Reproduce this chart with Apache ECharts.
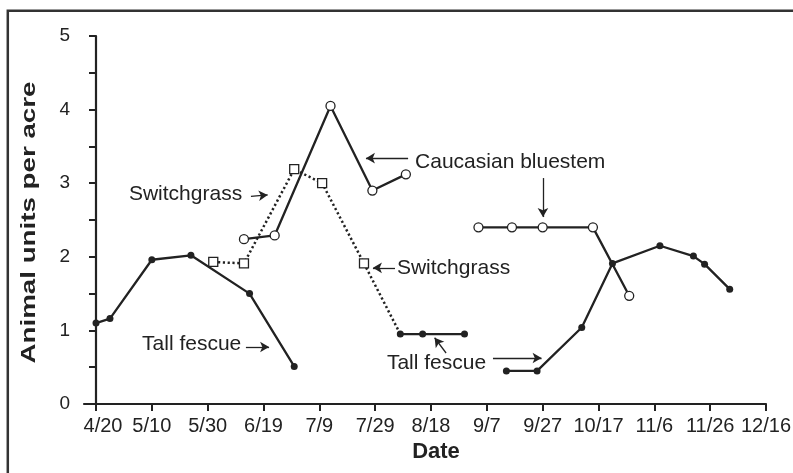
<!DOCTYPE html>
<html>
<head>
<meta charset="utf-8">
<script src="https://cdn.jsdelivr.net/npm/echarts@6/dist/echarts.min.js"></script>
<style>html,body{margin:0;padding:0;background:#fff;}#c{width:793px;height:473px;}</style>
</head>
<body>
<div id="c"></div>
<script>
// x values are days after 4/20
var xTickDays = [0, 20, 40, 60, 80, 100, 120, 140, 160, 180, 200, 220, 240];
var xTickLabels = ['4/20', '5/10', '5/30', '6/19', '7/9', '7/29', '8/18', '9/7', '9/27', '10/17', '11/6', '11/26', '12/16'];
var yTickValues = [0, 0.5, 1, 1.5, 2, 2.5, 3, 3.5, 4, 4.5, 5];
var yLabelValues = [0, 1, 2, 3, 4, 5];

var tallFescueSpring = [[0, 1.10], [5, 1.16], [20, 1.96], [34, 2.02], [55, 1.50], [71, 0.51]];
var tallFescueSummer = [[109, 0.95], [117, 0.95], [132, 0.95]];
var tallFescueFall = [[147, 0.45], [158, 0.45], [174, 1.04], [185, 1.91], [202, 2.15], [214, 2.01], [218, 1.90], [227, 1.56]];
var bluestemSummer = [[53, 2.24], [64, 2.29], [84, 4.05], [99, 2.90], [111, 3.12]];
var bluestemFall = [[137, 2.40], [149, 2.40], [160, 2.40], [178, 2.40], [191, 1.47]];
var switchgrass = [[42, 1.93], [53, 1.91], [71, 3.19], [81, 3.00], [96, 1.91], [109, 0.95]];

var noteLabels = [
  {name: 'Switchgrass', coord: [11.8, 2.85]},
  {name: 'Caucasian bluestem', coord: [114.3, 3.29]},
  {name: 'Switchgrass', coord: [107.8, 1.85]},
  {name: 'Tall fescue', coord: [16.5, 0.815]},
  {name: 'Tall fescue', coord: [104.2, 0.557]}
];
var noteArrows = [
  [[55.5, 2.82], [61.5, 2.84]],
  [[111.8, 3.34], [96.7, 3.34]],
  [[160.1, 3.07], [160.1, 2.54]],
  [[107.1, 1.85], [99.2, 1.85]],
  [[53.7, 0.774], [62.0, 0.774]],
  [[142.2, 0.625], [159.6, 0.625]],
  [[125.4, 0.693], [121.3, 0.90]]
];

var FONT = "'Liberation Sans', Arial, Helvetica, sans-serif";
var INK = '#222';

var chart = echarts.init(document.getElementById('c'), null, {renderer: 'canvas'});

function solidSeries(data, filled, z) {
  return {
    type: 'line', data: data, z: z,
    symbol: 'circle', symbolSize: filled ? 7 : 9,
    itemStyle: {color: filled ? INK : '#fff', borderColor: INK, borderWidth: filled ? 0 : 1.3},
    lineStyle: {color: INK, width: 2.3},
    animation: false, silent: true
  };
}

var swData = switchgrass.map(function (p, i) {
  return i === switchgrass.length - 1 ? {value: p, symbol: 'none'} : p;
});

var option = {
  backgroundColor: '#fff',
  animation: false,
  grid: {left: 84, right: 27, top: 36, bottom: 69, containLabel: false, outerBoundsMode: 'none'},
  xAxis: {
    type: 'value', min: -4.3, max: 240,
    axisLine: {show: true, lineStyle: {color: INK, width: 2.2}},
    axisTick: {show: true, customValues: xTickDays, length: 7, lineStyle: {color: INK, width: 2}},
    axisLabel: {
      customValues: xTickDays, margin: 12, color: INK, fontFamily: FONT, fontSize: 20,
      formatter: function (v) {
        var i = xTickDays.indexOf(v);
        if (i < 0) return '';
        return i === 0 ? '{first|' + xTickLabels[i] + '}' : xTickLabels[i];
      },
      rich: {first: {padding: [0, 0, 0, 14], color: INK, fontFamily: FONT, fontSize: 20}}
    },
    splitLine: {show: false},
    name: 'Date', nameLocation: 'middle', nameGap: 37,
    nameTextStyle: {color: INK, fontFamily: FONT, fontSize: 22, fontWeight: 'bold', padding: [0, 0, 0, 22]}
  },
  yAxis: {
    type: 'value', min: 0, max: 5, interval: 1,
    axisLine: {show: true, lineStyle: {color: INK, width: 2.2}},
    axisTick: {show: true, customValues: yTickValues, length: 7, lineStyle: {color: INK, width: 2}},
    axisLabel: {customValues: yLabelValues, margin: 14, color: INK, fontFamily: FONT, fontSize: 19},
    splitLine: {show: false}
  },
  graphic: [
    {type: 'rect', shape: {x: 7.8, y: 10.7, width: 820, height: 500}, style: {fill: 'none', stroke: '#333', lineWidth: 2.5}, silent: true},
    {type: 'text', x: 29, y: 222.5, rotation: Math.PI / 2, scaleX: 1.32,
     style: {text: 'Animal units per acre', font: 'bold 21px ' + FONT, fill: INK, align: 'center', verticalAlign: 'middle'}, silent: true}
  ],
  series: [
    {
      type: 'line', data: swData, z: 2,
      symbol: 'rect', symbolSize: 9,
      itemStyle: {color: '#fff', borderColor: INK, borderWidth: 1.3},
      lineStyle: {color: INK, width: 2.5, type: [2.2, 2.6]},
      animation: false, silent: true
    },
    solidSeries(bluestemSummer, false, 3),
    solidSeries(bluestemFall, false, 3),
    solidSeries(tallFescueSummer, true, 4),
    solidSeries(tallFescueFall, true, 4),
    (function () {
      var s = solidSeries(tallFescueSpring, true, 4);
      s.markPoint = {
        silent: true, animation: false,
        symbol: 'circle', symbolSize: 0,
        label: {show: true, position: 'right', distance: 0, formatter: '{b}', color: INK, fontFamily: FONT, fontSize: 21},
        data: noteLabels.map(function (n) { return {name: n.name, coord: n.coord}; })
      };
      s.markLine = {
        silent: true, animation: false,
        symbol: ['none', 'arrow'], symbolSize: [8, 9],
        lineStyle: {color: INK, width: 1.3, type: 'solid'},
        label: {show: false},
        data: noteArrows.map(function (a) { return [{coord: a[0]}, {coord: a[1]}]; })
      };
      return s;
    })()
  ]
};
chart.setOption(option);
</script>
</body>
</html>
